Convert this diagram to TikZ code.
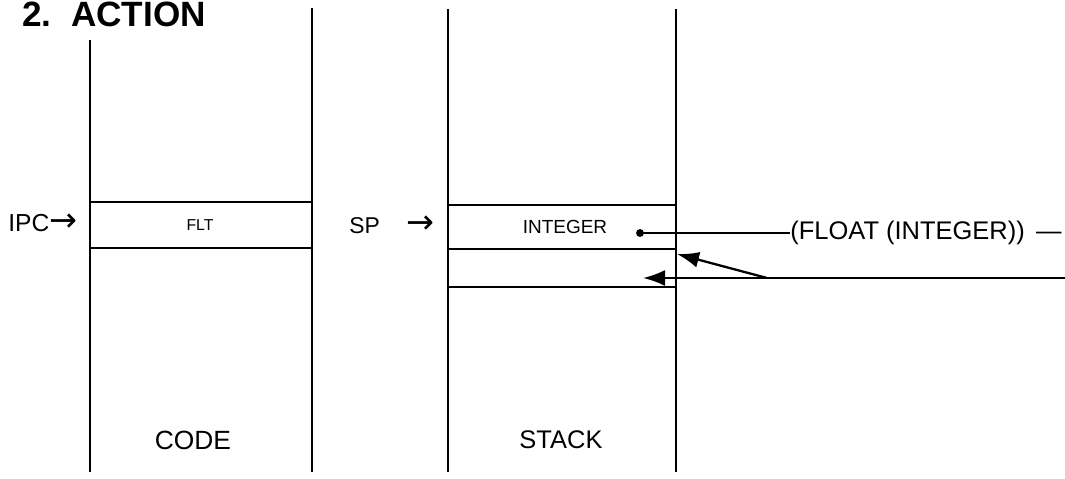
\documentclass[tikz,border=0pt]{standalone}
\usepackage{fontspec}
\setmainfont{Liberation Sans}
\newfontfamily\arrowfont{DejaVu Sans}
\usetikzlibrary{arrows.meta}

\begin{document}
\begin{tikzpicture}[
x=0.02cm,
y=-0.02cm,
wall/.style={line width=1pt},
shelf/.style={line width=1.3pt},
link/.style={line width=1.2pt},
tip/.style={line width=1.3pt, -{Latex[length=4.4mm,width=3.2mm]}},
every node/.style={inner sep=0pt}
]

\useasboundingbox (0,0) rectangle (1065,479);

\node[anchor=base west, font=\fontsize{20}{24}\bfseries\selectfont] (title) at (22,27)
{2.\ \ ACTION};

\draw[wall] (90,40) -- (90,472);
\draw[wall] (312,8) -- (312,472);
\draw[shelf] (90,202) -- (312,202);
\draw[shelf] (90,248) -- (312,248);

\draw[wall] (448,9) -- (448,472);
\draw[wall] (676,9) -- (676,472);
\draw[shelf] (448,205) -- (676,205);
\draw[shelf] (448,249) -- (676,249);
\draw[shelf] (448,287) -- (676,287);

\node[anchor=west, font=\fontsize{14}{16}\selectfont] (ipc) at (8,223)
{IPC{\arrowfont\fontsize{19}{20}\selectfont →}};

\node[font=\fontsize{9}{11}\selectfont] (flt) at (200,225)
{FLT};

\node[anchor=west, font=\fontsize{13}{15}\selectfont] (sp) at (349,225)
{SP\hspace{15pt}{\arrowfont\fontsize{19}{20}\selectfont →}};

\node[font=\fontsize{10.8}{13}\selectfont] (int) at (565,227)
{INTEGER};

\node[font=\fontsize{15}{18}\selectfont] (code) at (193,440)
{CODE};

\node[font=\fontsize{14.5}{17}\selectfont] (stack) at (561,440)
{STACK};

\node[anchor=west, font=\fontsize{14.5}{17}\selectfont] (float) at (790,233)
{(FLOAT (INTEGER)) \,---};

\node[circle, fill, minimum size=4.5pt] (src) at (640,233) {};

\coordinate (feed) at (1065,278);
\coordinate (split) at (767,278);
\coordinate (slot) at (643,278);
\coordinate (hit) at (677,254);

\draw[link] (src) -- (float.west);
\draw[tip] (feed) -- (slot);
\draw[tip] (split) -- (hit);

\end{tikzpicture}
\end{document}
